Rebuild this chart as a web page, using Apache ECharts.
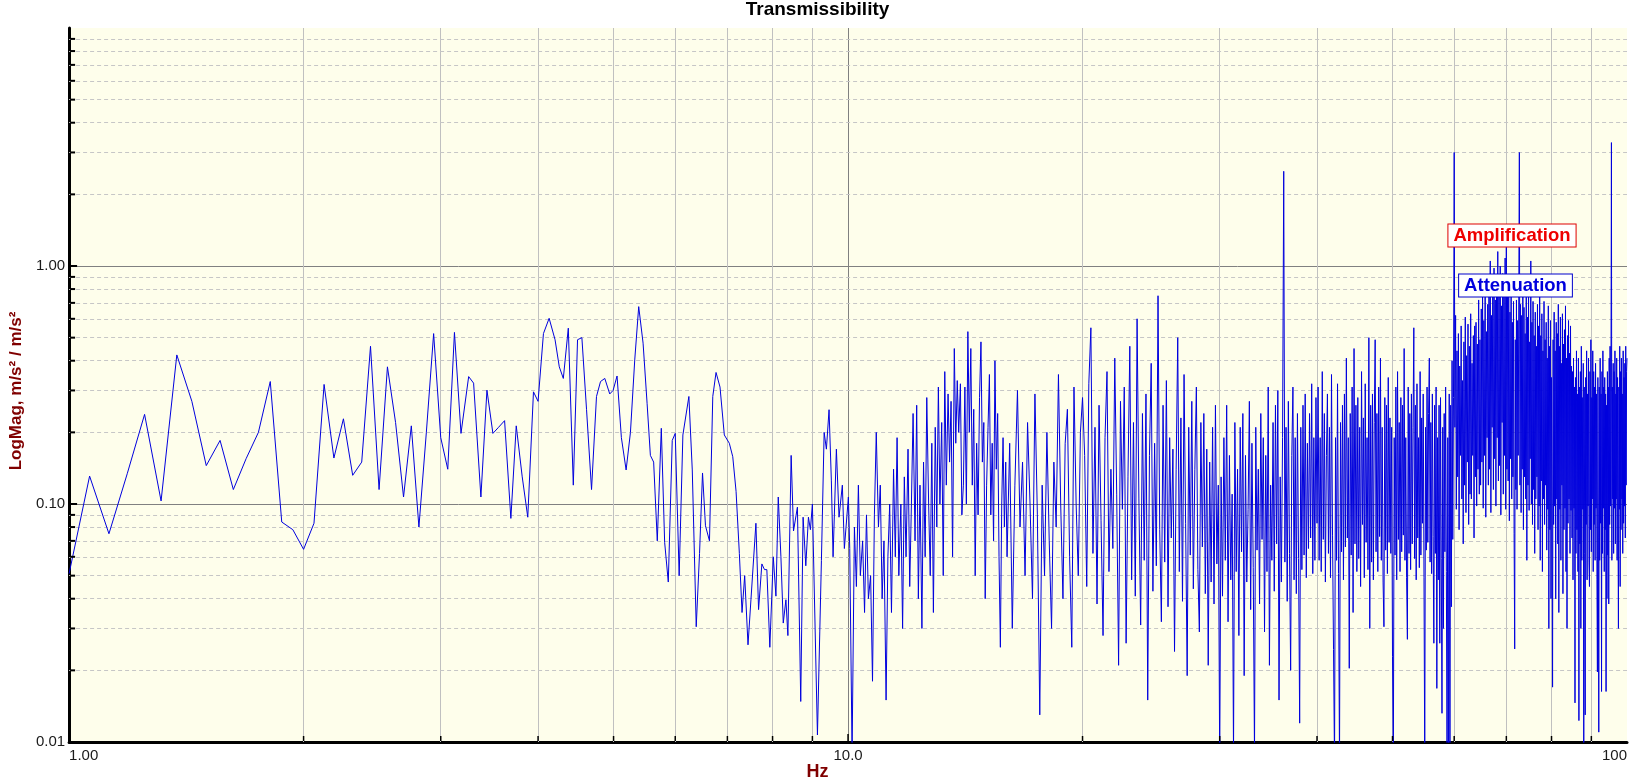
<!DOCTYPE html>
<html><head><meta charset="utf-8">
<script src="https://cdn.jsdelivr.net/npm/echarts@6/dist/echarts.min.js"></script>
<style>html,body{margin:0;padding:0;background:#fff}#c{width:1635px;height:784px}</style>
</head><body><div id="c"></div>
<script>
// [Hz, magnitude] pairs (sparse low-frequency part)
const band1to3 = [[1.0,0.051],[1.0625,0.131],[1.125,0.075],[1.1875,0.134],[1.25,0.238],[1.3125,0.103],[1.375,0.423],[1.4375,0.27],[1.5,0.145],[1.5625,0.185],[1.625,0.115],[1.6875,0.155],[1.75,0.2],[1.8125,0.327],[1.875,0.084],[1.9375,0.078],[2.0,0.0645],[2.0625,0.083],[2.125,0.318],[2.1875,0.156],[2.25,0.228],[2.3125,0.132],[2.375,0.15],[2.4375,0.46],[2.5,0.115],[2.5625,0.377],[2.625,0.22],[2.6875,0.107],[2.75,0.213],[2.8125,0.08],[2.875,0.2],[2.9375,0.52],[3.0,0.19]];
const band3to10 = [[3.063,0.14],[3.124,0.526],[3.185,0.198],[3.258,0.343],[3.306,0.322],[3.378,0.107],[3.439,0.301],[3.5,0.198],[3.559,0.21],[3.623,0.224],[3.691,0.087],[3.75,0.213],[3.817,0.13],[3.88,0.088],[3.946,0.296],[4.0,0.27],[4.064,0.52],[4.133,0.603],[4.206,0.49],[4.259,0.377],[4.31,0.337],[4.374,0.548],[4.439,0.12],[4.495,0.49],[4.553,0.5],[4.616,0.25],[4.685,0.115],[4.754,0.283],[4.811,0.327],[4.872,0.337],[4.944,0.29],[4.993,0.3],[5.052,0.345],[5.117,0.19],[5.189,0.139],[5.256,0.2],[5.323,0.403],[5.386,0.675],[5.456,0.474],[5.521,0.265],[5.575,0.16],[5.629,0.15],[5.69,0.07],[5.758,0.208],[5.815,0.069],[5.878,0.047],[5.947,0.185],[6.0,0.198],[6.07,0.05],[6.137,0.195],[6.247,0.283],[6.31,0.139],[6.384,0.0305],[6.447,0.062],[6.504,0.135],[6.561,0.081],[6.639,0.07],[6.704,0.283],[6.769,0.357],[6.849,0.31],[6.937,0.195],[7.04,0.18],[7.112,0.158],[7.182,0.113],[7.252,0.062],[7.31,0.035],[7.367,0.05],[7.44,0.0256],[7.505,0.0396],[7.616,0.083],[7.676,0.036],[7.751,0.056],[7.812,0.053],[7.866,0.053],[7.936,0.025],[8.017,0.06],[8.08,0.041],[8.136,0.107],[8.2,0.06],[8.257,0.0316],[8.322,0.0396],[8.371,0.028],[8.452,0.16],[8.511,0.077],[8.61,0.097],[8.695,0.0148],[8.756,0.088],[8.826,0.055],[8.895,0.088],[8.947,0.078],[9.0,0.1],[9.135,0.0107],[9.198,0.029],[9.243,0.058],[9.318,0.2],[9.38,0.17],[9.454,0.249],[9.519,0.125],[9.567,0.06],[9.661,0.17],[9.737,0.088],[9.833,0.12],[9.892,0.065],[10.01,0.107],[10.05,0.065],[10.12,0.009]];
const band10to20 = [[10.19,0.08],[10.25,0.045],[10.31,0.12],[10.37,0.05],[10.44,0.07],[10.5,0.035],[10.56,0.09],[10.62,0.04],[10.69,0.05],[10.75,0.018],[10.81,0.09],[10.87,0.2],[10.94,0.08],[11.0,0.12],[11.06,0.04],[11.12,0.07],[11.19,0.015],[11.25,0.06],[11.31,0.1],[11.37,0.035],[11.44,0.14],[11.5,0.06],[11.56,0.19],[11.62,0.05],[11.69,0.1],[11.75,0.03],[11.81,0.13],[11.87,0.06],[11.94,0.17],[12.0,0.045],[12.06,0.1],[12.12,0.24],[12.19,0.07],[12.25,0.26],[12.31,0.04],[12.37,0.12],[12.44,0.03],[12.5,0.15],[12.56,0.06],[12.62,0.28],[12.69,0.1],[12.75,0.05],[12.81,0.18],[12.87,0.035],[12.94,0.21],[13.0,0.08],[13.06,0.31],[13.12,0.1],[13.19,0.22],[13.25,0.05],[13.31,0.36],[13.37,0.12],[13.44,0.29],[13.5,0.15],[13.56,0.27],[13.62,0.06],[13.69,0.45],[13.75,0.18],[13.81,0.33],[13.87,0.2],[13.94,0.32],[14.0,0.09],
[14.0625,0.12],[14.125,0.31],[14.1875,0.1],[14.25,0.53],[14.3125,0.2],[14.375,0.45],[14.4375,0.12],[14.5,0.25],[14.5625,0.05],[14.625,0.18],[14.6875,0.09],[14.75,0.28],[14.8125,0.48],[14.875,0.15],[14.9375,0.22],[15.0,0.04],[15.0625,0.12],[15.125,0.21],[15.1875,0.35],[15.25,0.09],[15.3125,0.18],[15.375,0.07],[15.4375,0.4],[15.5,0.14],[15.5625,0.24],[15.625,0.06],[15.6875,0.025],[15.75,0.1],[15.8125,0.19],[15.875,0.08],[15.9375,0.15],[16.0,0.06],[16.125,0.18],[16.25,0.03],[16.375,0.12],[16.5,0.3],[16.625,0.08],[16.75,0.15],[16.875,0.05],[17.0,0.22],[17.125,0.1],[17.25,0.04],[17.375,0.29],[17.5,0.09],[17.625,0.013],[17.75,0.12],[17.875,0.05],[18.0,0.2],[18.125,0.07],[18.25,0.03],[18.375,0.15],[18.5,0.08],[18.625,0.35],[18.75,0.1],[18.875,0.04],[19.0,0.18],[19.125,0.25],[19.25,0.06],[19.375,0.025],[19.5,0.31],[19.625,0.1],[19.75,0.05],[19.875,0.2],[20.0,0.28]];

// dense part: magnitudes sampled every 0.125 Hz (8 per line = 1 Hz), first value at start + 0.125
const stepHz = 0.125;
const mags20to30 = [
0.16,0.045,0.32,0.55,0.062,0.21,0.038,0.26,
0.085,0.028,0.19,0.36,0.052,0.14,0.065,0.41,
0.11,0.021,0.27,0.095,0.31,0.026,0.13,0.46,
0.048,0.22,0.041,0.6,0.105,0.031,0.24,0.058,
0.29,0.015,0.16,0.39,0.043,0.18,0.055,0.75,
0.078,0.032,0.26,0.057,0.33,0.037,0.19,0.072,
0.17,0.024,0.14,0.5,0.052,0.23,0.039,0.35,
0.083,0.019,0.21,0.061,0.27,0.044,0.14,0.31,
0.053,0.029,0.22,0.066,0.24,0.042,0.17,0.021,
0.15,0.047,0.21,0.038,0.26,0.056,0.12,0.008];
const mags30to40 = [
0.13,0.041,0.19,0.058,0.26,0.032,0.16,0.048,
0.11,0.009,0.22,0.052,0.14,0.028,0.21,0.063,
0.24,0.019,0.16,0.047,0.095,0.27,0.036,0.18,
0.054,0.009,0.21,0.064,0.14,0.038,0.24,0.071,
0.19,0.029,0.16,0.052,0.31,0.021,0.12,0.058,
0.22,0.043,0.26,0.068,0.3,0.015,0.13,0.047,
0.19,2.5,0.057,0.21,0.039,0.27,0.062,0.02,
0.16,0.31,0.048,0.19,0.042,0.24,0.059,0.012,
0.21,0.053,0.26,0.061,0.29,0.049,0.18,0.065,
0.24,0.072,0.32,0.051,0.19,0.058,0.28,0.083];
const mags40to60 = [
0.31,0.058,0.19,0.052,0.36,0.071,0.24,0.047,
0.16,0.29,0.062,0.21,0.049,0.35,0.074,0.0245,
0.008,0.19,0.058,0.32,0.051,0.008,0.22,0.063,
0.26,0.048,0.29,0.066,0.41,0.072,0.19,0.0204,
0.24,0.061,0.31,0.035,0.45,0.068,0.26,0.052,
0.28,0.059,0.21,0.045,0.36,0.082,0.23,0.049,
0.32,0.069,0.19,0.053,0.5,0.03,0.26,0.057,
0.29,0.048,0.22,0.49,0.063,0.24,0.052,0.31,
0.073,0.41,0.058,0.21,0.047,0.0305,0.28,0.064,
0.26,0.051,0.34,0.069,0.23,0.062,0.21,0.0229,
0.008,0.19,0.061,0.31,0.048,0.36,0.071,0.22,
0.052,0.28,0.063,0.26,0.074,0.45,0.058,0.19,
0.049,0.027,0.31,0.062,0.24,0.053,0.29,0.068,
0.21,0.55,0.059,0.26,0.048,0.32,0.072,0.19,
0.054,0.36,0.061,0.23,0.083,0.29,0.049,0.008,
0.21,0.064,0.31,0.069,0.24,0.41,0.057,0.22,
0.051,0.29,0.073,0.026,0.26,0.062,0.31,0.0168,
0.19,0.048,0.26,0.026,0.28,0.059,0.0132,0.21,
0.03,0.24,0.063,0.31,0.052,0.008,0.19,0.008,
0.29,0.008,0.26,0.037,0.4,0.071,0.28,3.0];
const mags60to80 = [
0.21,0.62,0.095,0.44,0.13,0.52,0.078,0.38,
0.16,0.56,0.105,0.33,0.068,0.48,0.12,0.61,
0.092,0.42,0.15,0.57,0.082,0.46,0.11,0.63,
0.105,0.39,0.16,0.51,0.072,0.56,0.13,0.58,
0.098,0.47,0.14,0.72,0.11,0.49,0.12,0.66,
0.15,0.81,0.096,0.59,0.16,0.74,0.088,0.53,
0.19,0.69,0.12,0.88,0.14,1.05,0.092,0.62,
0.21,0.79,0.115,0.98,0.155,0.72,0.098,0.91,
0.19,1.15,0.125,0.82,0.145,1.0,0.09,0.68,
0.22,0.93,0.11,0.76,0.16,1.08,0.095,1.2,
0.14,0.83,0.125,0.92,0.085,0.64,0.155,0.86,
0.105,0.58,0.13,0.71,0.075,0.0246,0.49,0.115,
0.72,0.095,0.59,0.16,0.78,3.0,0.12,0.69,
0.092,0.62,0.14,0.89,0.078,0.67,0.13,0.52,
0.105,0.74,0.058,0.61,0.12,0.79,0.094,0.48,
0.155,1.05,0.1,0.58,0.082,0.71,0.115,0.51,
0.062,0.64,0.105,0.46,0.13,0.69,0.078,0.56,
0.098,0.8,0.058,0.51,0.125,0.63,0.052,0.44,
0.105,0.71,0.082,0.49,0.12,0.58,0.064,0.41,
0.095,0.68,0.03,0.46,0.078,0.59,0.04,0.34];
const mags80to100 = [
0.105,0.017,0.49,0.082,0.64,0.098,0.44,0.04,
0.58,0.105,0.52,0.068,0.69,0.035,0.46,0.095,
0.61,0.058,0.39,0.12,0.63,0.042,0.47,0.078,
0.54,0.096,0.68,0.052,0.41,0.03,0.51,0.083,
0.59,0.105,0.43,0.062,0.56,0.094,0.38,0.072,
0.36,0.048,0.41,0.096,0.31,0.0146,0.34,0.062,
0.44,0.078,0.29,0.052,0.41,0.0123,0.31,0.068,
0.36,0.03,0.46,0.058,0.28,0.095,0.39,0.008,
0.31,0.062,0.013,0.34,0.082,0.44,0.048,0.29,
0.098,0.41,0.057,0.045,0.36,0.078,0.49,0.063,
0.28,0.105,0.44,0.052,0.36,0.082,0.31,0.058,
0.39,0.096,0.29,0.048,0.0197,0.34,0.072,0.011,
0.31,0.058,0.41,0.083,0.29,0.0163,0.36,0.062,
0.44,0.096,0.31,0.052,0.34,0.078,0.29,0.0163,
0.26,0.04,0.36,0.061,0.31,0.038,0.41,0.082,
0.46,0.098,0.34,3.3,0.058,0.31,0.105,0.39,
0.062,0.36,0.096,0.44,0.068,0.29,0.105,0.41,
0.058,0.34,0.082,0.03,0.31,0.095,0.46,0.045,
0.36,0.078,0.41,0.105,0.29,0.062,0.44,0.083,
0.34,0.098,0.39,0.072,0.46,0.12,0.36,0.41];

// axis tick values
const xMajorTicks = [10];
const yMajorTicks = [0.1, 1];
const minorFactors = [2, 3, 4, 5, 6, 7, 8, 9];
const xDecades = [1, 10];
const yDecades = [0.01, 0.1, 1];
const xMinorTicks = xDecades.flatMap(d => minorFactors.map(m => +(d * m).toFixed(4)));
const yMinorTicks = yDecades.flatMap(d => minorFactors.map(m => +(d * m).toFixed(4)));

const sampled = (startHz, mags) => mags.map((v, i) => [+(startHz + (i + 1) * stepHz).toFixed(4), v]);
const series1 = [].concat(band1to3, band3to10, band10to20,
  sampled(20, mags20to30), sampled(30, mags30to40), sampled(40, mags40to60),
  sampled(60, mags60to80), sampled(80, mags80to100));

const FONT = '"Liberation Sans", Arial, Helvetica, sans-serif';
const chart = echarts.init(document.getElementById('c'), null, {renderer: 'canvas'});

const gridLineData = [].concat(
  xMinorTicks.map(v => ({xAxis: v, lineStyle: {color: '#c0c0c0', type: 'solid', width: 1}})),
  yMinorTicks.map(v => ({yAxis: v, lineStyle: {color: '#c6c6c6', type: [4, 3], width: 1}}))
);

const tickData = [].concat(
  yMajorTicks.map(v => [1, v, 0, 1]),
  yMinorTicks.map(v => [1, v, 0, 0]),
  xMajorTicks.map(v => [v, 0.01, 1, 1]),
  xMinorTicks.map(v => [v, 0.01, 1, 0])
);

const option = {
  animation: false,
  backgroundColor: '#ffffff',
  title: [
    {text: 'Transmissibility', left: 'center', top: 0, padding: 0,
     textStyle: {fontFamily: FONT, fontSize: 19, fontWeight: 'bold', color: '#000', lineHeight: 19}},
    {text: 'Hz', left: 'center', top: 763, padding: 0,
     textStyle: {fontFamily: FONT, fontSize: 18, fontWeight: 'bold', color: '#800000', lineHeight: 18}}
  ],
  grid: {left: 64, right: 8, top: 28, bottom: 42, show: true, backgroundColor: '#fefeeb', borderWidth: 0, containLabel: false},
  xAxis: {
    type: 'log', logBase: 10, min: 1, max: 100,
    axisLine: {show: true, lineStyle: {color: '#000', width: 3}},
    axisTick: {show: false},
    axisLabel: {margin: 6, fontFamily: FONT, fontSize: 15, color: '#1a1a1a',
      showMinLabel: true, showMaxLabel: true, alignMinLabel: 'left', alignMaxLabel: 'right',
      formatter: v => v < 5 ? Number(v).toFixed(2) : (v < 50 ? Number(v).toFixed(1) : Number(v).toFixed(0))},
    splitLine: {show: true, showMinLine: false, showMaxLine: false, lineStyle: {color: '#808080', width: 1}}
  },
  yAxis: {
    type: 'log', logBase: 10, min: 0.01, max: 10,
    name: 'LogMag, m/s² / m/s²', nameLocation: 'middle', nameGap: 43,
    nameTextStyle: {fontFamily: FONT, fontSize: 17, fontWeight: 'bold', color: '#800000', padding: [0, 12, 0, 0]},
    axisLine: {show: true, lineStyle: {color: '#000', width: 3}},
    axisTick: {show: false},
    axisLabel: {margin: 4, fontFamily: FONT, fontSize: 15, color: '#1a1a1a', showMinLabel: true,
      formatter: v => v > 5 ? '' : Number(v).toFixed(2)},
    splitLine: {show: true, showMinLine: false, showMaxLine: false, lineStyle: {color: '#808080', width: 1}}
  },
  graphic: [
    {type: 'text', x: 1512, y: 235.5, z: 100,
     style: {text: 'Amplification', fill: '#ee0000', fontSize: 18.5, fontWeight: 'bold', fontFamily: 'Liberation Sans',
       align: 'center', verticalAlign: 'middle', backgroundColor: '#ffffff', borderColor: '#dd0000', borderWidth: 1, padding: [2, 5, 1, 5]}},
    {type: 'text', x: 1515.5, y: 285.5, z: 100,
     style: {text: 'Attenuation', fill: '#0000dd', fontSize: 18.5, fontWeight: 'bold', fontFamily: 'Liberation Sans',
       align: 'center', verticalAlign: 'middle', backgroundColor: '#ffffff', borderColor: '#0000cc', borderWidth: 1, padding: [2, 5, 1, 5]}}
  ],
  series: [
    {type: 'line', name: 'grid', data: [[1, 0.051]], showSymbol: false, symbol: 'none', silent: true, z: 1,
     lineStyle: {opacity: 0},
     markLine: {silent: true, symbol: ['none', 'none'], label: {show: false}, animation: false, z: 1, data: gridLineData}},
    {type: 'line', name: 'Transmissibility', data: series1, showSymbol: false, symbol: 'none', z: 3, clip: true,
     lineStyle: {color: '#0000dd', width: 1}, emphasis: {disabled: true}},
    {type: 'custom', name: 'ticks', data: tickData, z: 10, silent: true, clip: false,
     encode: {x: 0, y: 1},
     renderItem: (params, api) => {
       const p = api.coord([api.value(0), api.value(1)]);
       const isX = api.value(2) === 1;
       const len = api.value(3) === 1 ? 8 : 6;
       const shape = isX ? {x1: p[0], y1: p[1] - 1, x2: p[0], y2: p[1] - len}
                         : {x1: p[0] + 1, y1: p[1], x2: p[0] + len, y2: p[1]};
       return {type: 'line', shape: shape, style: {stroke: '#000', lineWidth: isX ? 1.5 : 2}};
     }}
  ]
};
chart.setOption(option);
</script></body></html>
